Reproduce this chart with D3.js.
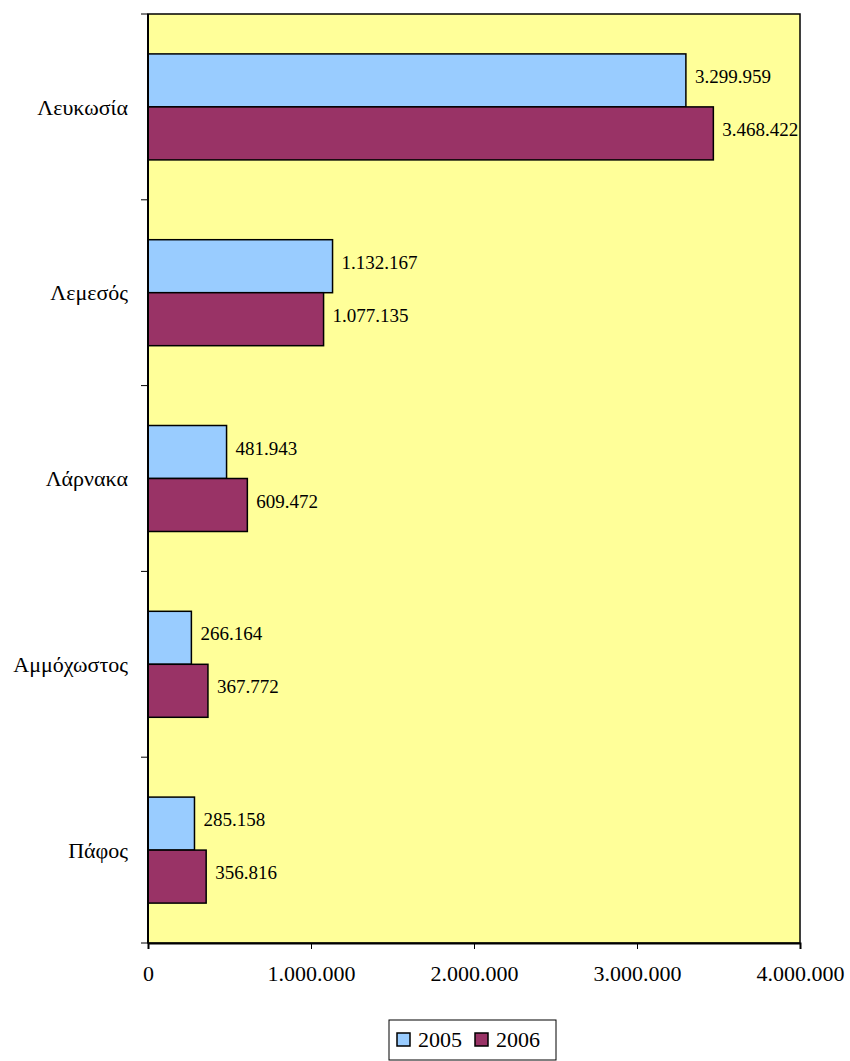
<!DOCTYPE html>
<html>
<head>
<meta charset="utf-8">
<script src="https://cdn.jsdelivr.net/npm/d3@7"></script>
<style>
  body { margin: 0; background: #fff; }
</style>
</head>
<body>
<div id="chart"></div>
<script>
// Datos del gráfico
var categories = ["Λευκωσία", "Λεμεσός", "Λάρνακα", "Αμμόχωστος", "Πάφος"];
var seriesNames = ["2005", "2006"];
var values2005 = [3299959, 1132167, 481943, 266164, 285158];
var values2006 = [3468422, 1077135, 609472, 367772, 356816];
var xTicks = [0, 1000000, 2000000, 3000000, 4000000];
var colors = ["#99CCFF", "#993366"];

var width = 850;
var height = 1061;
var margin = { top: 14, right: 50, bottom: 118, left: 148 };
var plotW = width - margin.left - margin.right;
var plotH = height - margin.top - margin.bottom;
var serif = "'Liberation Serif', 'Times New Roman', Times, serif";

var svg = d3.select("#chart")
  .append("svg")
  .attr("width", width)
  .attr("height", height)
  .style("font-family", serif);

var g = svg.append("g")
  .attr("transform", "translate(" + margin.left + "," + margin.top + ")");

// Escalas
var x = d3.scaleLinear().domain([0, 4000000]).range([0, plotW]);
var y = d3.scaleBand().domain(categories).range([0, plotH]).padding(0);
var ySub = d3.scaleBand().domain(seriesNames).range([0, y.bandwidth()])
  .paddingInner(0).paddingOuter(0.753);

// Formato con puntos como separador de miles
var fmt = d3.formatLocale({ decimal: ",", thousands: ".", grouping: [3], currency: ["", "€"] }).format(",");

// Fondo del área de trazado
g.append("rect")
  .attr("x", 0).attr("y", 0)
  .attr("width", plotW).attr("height", plotH)
  .attr("fill", "#FFFF99")
  .attr("stroke", "#000")
  .attr("stroke-width", 1.5);

// Datos por categoría
var rows = categories.map(function(c, i) {
  return { cat: c, vals: [values2005[i], values2006[i]] };
});

var groups = g.selectAll(".cat")
  .data(rows)
  .enter()
  .append("g")
  .attr("class", "cat")
  .attr("transform", function(d) { return "translate(0," + y(d.cat) + ")"; });

groups.selectAll("rect")
  .data(function(d) { return d.vals.map(function(v, j) { return { s: seriesNames[j], v: v, j: j }; }); })
  .enter()
  .append("rect")
  .attr("x", 0)
  .attr("y", function(d) { return ySub(d.s); })
  .attr("width", function(d) { return x(d.v); })
  .attr("height", ySub.bandwidth())
  .attr("fill", function(d) { return colors[d.j]; })
  .attr("stroke", "#000")
  .attr("stroke-width", 1.5);

// Etiquetas de valor, un poco por encima del centro de la barra
groups.selectAll("text.val")
  .data(function(d) { return d.vals.map(function(v, j) { return { s: seriesNames[j], v: v }; }); })
  .enter()
  .append("text")
  .attr("class", "val")
  .attr("x", function(d) { return x(d.v) + 9; })
  .attr("y", function(d) { return ySub(d.s) + ySub.bandwidth() / 2 - 4; })
  .attr("dy", "0.35em")
  .style("font-family", serif)
  .style("font-size", "19px")
  .text(function(d) { return fmt(d.v); });

// Eje Y (marcas en los límites de las bandas)
var yLine = g.append("g");
yLine.append("line")
  .attr("x1", 0).attr("x2", 0).attr("y1", 0).attr("y2", plotH)
  .attr("stroke", "#000").attr("stroke-width", 2);
yLine.selectAll("line.tick")
  .data(categories.concat(["__end"]))
  .enter()
  .append("line")
  .attr("class", "tick")
  .attr("x1", -7).attr("x2", 0)
  .attr("y1", function(d, i) { return i * y.step(); })
  .attr("y2", function(d, i) { return i * y.step(); })
  .attr("stroke", "#000").attr("stroke-width", 1);
yLine.selectAll("text")
  .data(categories)
  .enter()
  .append("text")
  .attr("x", -20)
  .attr("y", function(d) { return y(d) + y.bandwidth() / 2; })
  .attr("dy", "0.35em")
  .attr("text-anchor", "end")
  .style("font-family", serif)
  .style("font-size", "22px")
  .text(function(d) { return d; });

// Eje X
var xAxis = d3.axisBottom(x)
  .tickValues(xTicks)
  .tickSize(6)
  .tickPadding(16)
  .tickFormat(function(d) { return fmt(d); });

var xg = g.append("g")
  .attr("transform", "translate(0," + plotH + ")")
  .call(xAxis);
xg.attr("font-family", null).attr("font-size", null);
xg.select(".domain").attr("stroke", "#000").attr("stroke-width", 2);
xg.selectAll("text")
  .style("font-family", serif)
  .style("font-size", "22px");

// Leyenda
var legend = svg.append("g").attr("transform", "translate(389,1020)");
legend.append("rect")
  .attr("x", 0).attr("y", 0)
  .attr("width", 167).attr("height", 40)
  .attr("fill", "#fff")
  .attr("stroke", "#000")
  .attr("stroke-width", 1);

var items = legend.selectAll(".item")
  .data(seriesNames)
  .enter()
  .append("g")
  .attr("class", "item")
  .attr("transform", function(d, i) { return "translate(" + (8 + i * 78) + ",0)"; });

items.append("rect")
  .attr("x", 0).attr("y", 13)
  .attr("width", 13).attr("height", 13)
  .attr("fill", function(d, i) { return colors[i]; })
  .attr("stroke", "#000")
  .attr("stroke-width", 1.5);

items.append("text")
  .attr("x", 21)
  .attr("y", 19)
  .attr("dy", "0.35em")
  .style("font-family", serif)
  .style("font-size", "22px")
  .text(function(d) { return d; });
</script>
</body>
</html>
